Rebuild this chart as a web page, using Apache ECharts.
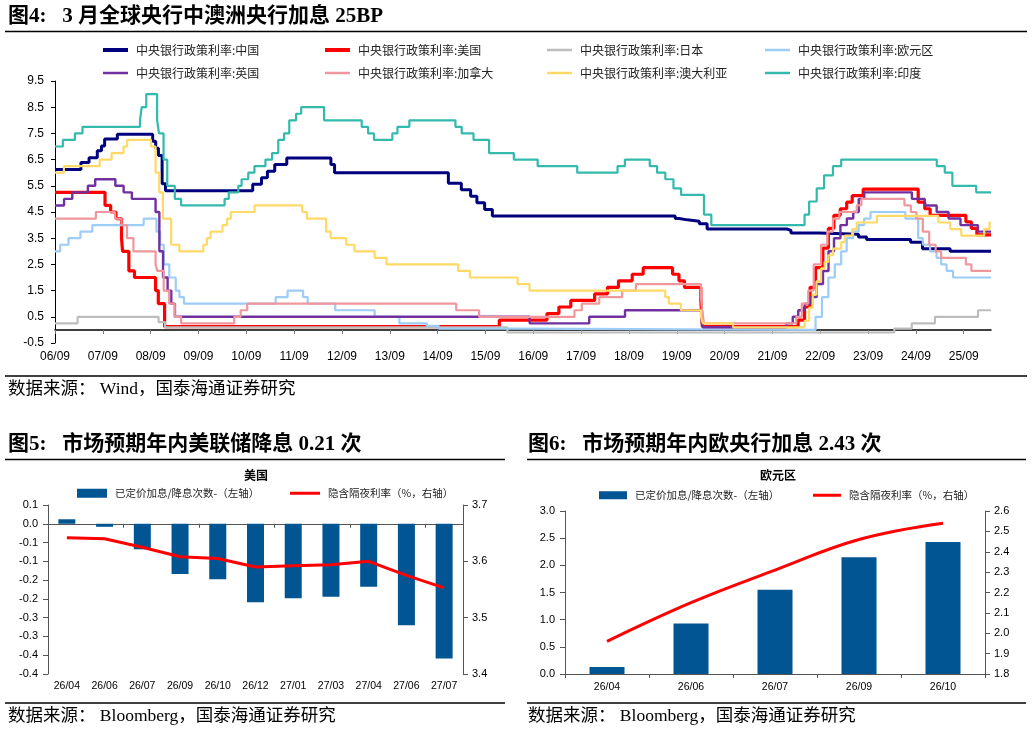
<!DOCTYPE html>
<html>
<head>
<meta charset="utf-8">
<title>全球央行政策利率</title>
<script src="https://cdn.jsdelivr.net/npm/echarts@6.0.0/dist/echarts.min.js"></script>
<style>
html, body { margin: 0; padding: 0; background: #fff; }
#main { width: 1032px; height: 732px; }
</style>
</head>
<body>
<div id="main"></div>
<script>
// 图4: 中央银行政策利率 (变动日期, 利率%)
var chinaRate = [['2006-09-01',6.12],['2007-03-18',6.39],['2007-05-19',6.57],['2007-07-21',6.84],['2007-08-22',7.02],['2007-09-15',7.29],['2007-12-21',7.47],['2008-09-16',7.20],['2008-10-09',6.93],['2008-10-30',6.66],['2008-11-27',5.58],['2008-12-23',5.31],['2010-10-20',5.56],['2010-12-26',5.81],['2011-02-09',6.06],['2011-04-06',6.31],['2011-07-07',6.56],['2012-06-08',6.31],['2012-07-06',6.00],['2014-11-22',5.60],['2015-03-01',5.35],['2015-05-11',5.10],['2015-06-28',4.85],['2015-08-26',4.60],['2015-10-24',4.35],['2019-08-20',4.25],['2019-09-20',4.20],['2019-11-20',4.15],['2020-02-20',4.05],['2020-04-20',3.85],['2021-12-20',3.80],['2022-01-20',3.70],['2022-08-22',3.65],['2023-06-20',3.55],['2023-08-21',3.45],['2024-07-22',3.35],['2024-10-21',3.10],['2025-05-20',3.00]];
var usRateHist = [['2006-09-01',5.25],['2007-09-18',4.75],['2007-10-31',4.50],['2007-12-11',4.25],['2008-01-22',3.50],['2008-01-30',3.00],['2008-03-18',2.25],['2008-04-30',2.00],['2008-10-08',1.50],['2008-10-29',1.00],['2008-12-16',0.125],['2015-12-16',0.375],['2016-12-14',0.625],['2017-03-15',0.875],['2017-06-14',1.125],['2017-12-13',1.375],['2018-03-21',1.625],['2018-06-13',1.875],['2018-09-26',2.125],['2018-12-19',2.375],['2019-07-31',2.125],['2019-09-18',1.875],['2019-10-30',1.625],['2020-03-03',1.125],['2020-03-15',0.125],['2022-03-16',0.375],['2022-05-04',0.875],['2022-06-15',1.625],['2022-07-27',2.375],['2022-09-21',3.125],['2022-11-02',3.875],['2022-12-14',4.375],['2023-02-01',4.625],['2023-03-22',4.875],['2023-05-03',5.125],['2023-07-26',5.375],['2024-09-18',4.875],['2024-11-07',4.625],['2024-12-18',4.375],['2025-09-17',4.125],['2025-10-29',3.875],['2025-12-10',3.625]];
var japanRate = [['2006-09-01',0.25],['2007-02-21',0.50],['2008-10-31',0.30],['2008-12-19',0.10],['2016-02-16',-0.10],['2024-03-19',0.05],['2024-07-31',0.25],['2025-01-24',0.50],['2025-12-19',0.75]];
var euroRate = [['2006-09-01',3.00],['2006-10-11',3.25],['2006-12-13',3.50],['2007-03-14',3.75],['2007-06-13',4.00],['2008-07-09',4.25],['2008-10-15',3.75],['2008-11-12',3.25],['2008-12-10',2.50],['2009-01-21',2.00],['2009-03-11',1.50],['2009-04-08',1.25],['2009-05-13',1.00],['2011-04-13',1.25],['2011-07-13',1.50],['2011-11-09',1.25],['2011-12-14',1.00],['2012-07-11',0.75],['2013-05-08',0.50],['2013-11-13',0.25],['2014-06-11',0.15],['2014-09-10',0.05],['2016-03-16',0.00],['2022-07-27',0.50],['2022-09-14',1.25],['2022-11-02',2.00],['2022-12-21',2.50],['2023-02-08',3.00],['2023-03-22',3.50],['2023-05-10',3.75],['2023-06-21',4.00],['2023-08-02',4.25],['2023-09-20',4.50],['2024-06-12',4.25],['2024-09-18',3.50],['2024-10-23',3.25],['2024-12-18',3.00],['2025-02-05',2.75],['2025-03-12',2.50],['2025-04-23',2.25],['2025-06-11',2.00]];
var ukRate = [['2006-09-01',4.75],['2006-11-09',5.00],['2007-01-11',5.25],['2007-05-10',5.50],['2007-07-05',5.75],['2007-12-06',5.50],['2008-02-07',5.25],['2008-04-10',5.00],['2008-10-08',4.50],['2008-11-06',3.00],['2008-12-04',2.00],['2009-01-08',1.50],['2009-02-05',1.00],['2009-03-05',0.50],['2016-08-04',0.25],['2017-11-02',0.50],['2018-08-02',0.75],['2020-03-11',0.25],['2020-03-19',0.10],['2021-12-16',0.25],['2022-02-03',0.50],['2022-03-17',0.75],['2022-05-05',1.00],['2022-06-16',1.25],['2022-08-04',1.75],['2022-09-22',2.25],['2022-11-03',3.00],['2022-12-15',3.50],['2023-02-02',4.00],['2023-03-23',4.25],['2023-05-11',4.50],['2023-06-22',5.00],['2023-08-03',5.25],['2024-08-01',5.00],['2024-11-07',4.75],['2025-02-06',4.50],['2025-05-08',4.25],['2025-08-07',4.00],['2025-12-18',3.75]];
var canadaRate = [['2006-09-01',4.25],['2007-07-10',4.50],['2007-12-04',4.25],['2008-01-22',4.00],['2008-03-04',3.50],['2008-04-22',3.00],['2008-10-08',2.50],['2008-10-21',2.25],['2008-12-09',1.50],['2009-01-20',1.00],['2009-03-03',0.50],['2009-04-21',0.25],['2010-06-01',0.50],['2010-07-20',0.75],['2010-09-08',1.00],['2015-01-21',0.75],['2015-07-15',0.50],['2017-07-12',0.75],['2017-09-06',1.00],['2018-01-17',1.25],['2018-07-11',1.50],['2018-10-24',1.75],['2020-03-04',1.25],['2020-03-13',0.75],['2020-03-27',0.25],['2022-03-02',0.50],['2022-04-13',1.00],['2022-06-01',1.50],['2022-07-13',2.50],['2022-09-07',3.25],['2022-10-26',3.75],['2022-12-07',4.25],['2023-01-25',4.50],['2023-06-07',4.75],['2023-07-12',5.00],['2024-06-05',4.75],['2024-07-24',4.50],['2024-09-04',4.25],['2024-10-23',3.75],['2024-12-11',3.25],['2025-01-29',3.00],['2025-03-12',2.75],['2025-09-17',2.50],['2025-10-29',2.25]];
var ausRate = [['2006-09-01',6.00],['2006-11-08',6.25],['2007-08-08',6.50],['2007-11-07',6.75],['2008-02-06',7.00],['2008-03-05',7.25],['2008-09-03',7.00],['2008-10-08',6.00],['2008-11-05',5.25],['2008-12-03',4.25],['2009-02-04',3.25],['2009-04-08',3.00],['2009-10-07',3.25],['2009-11-04',3.50],['2009-12-02',3.75],['2010-03-03',4.00],['2010-04-07',4.25],['2010-05-05',4.50],['2010-11-03',4.75],['2011-11-02',4.50],['2011-12-07',4.25],['2012-05-02',3.75],['2012-06-06',3.50],['2012-10-03',3.25],['2012-12-05',3.00],['2013-05-08',2.75],['2013-08-07',2.50],['2015-02-04',2.25],['2015-05-06',2.00],['2016-05-04',1.75],['2016-08-03',1.50],['2019-06-05',1.25],['2019-07-03',1.00],['2019-10-02',0.75],['2020-03-04',0.50],['2020-03-19',0.25],['2020-11-04',0.10],['2022-05-04',0.35],['2022-06-08',0.85],['2022-07-06',1.35],['2022-08-03',1.85],['2022-09-07',2.35],['2022-10-05',2.60],['2022-11-02',2.85],['2022-12-07',3.10],['2023-02-08',3.35],['2023-03-08',3.60],['2023-05-03',3.85],['2023-06-07',4.10],['2023-11-08',4.35],['2025-02-19',4.10],['2025-05-21',3.85],['2025-08-13',3.60],['2026-02-04',3.85],['2026-03-17',4.10]];
var indiaRate = [['2006-09-01',7.00],['2006-10-31',7.25],['2007-01-31',7.50],['2007-03-30',7.75],['2008-06-11',8.00],['2008-06-24',8.50],['2008-07-29',9.00],['2008-10-20',8.00],['2008-11-03',7.50],['2008-12-08',6.50],['2009-01-05',5.50],['2009-03-04',5.00],['2009-04-21',4.75],['2010-03-19',5.00],['2010-04-20',5.25],['2010-07-02',5.50],['2010-07-27',5.75],['2010-09-16',6.00],['2010-11-02',6.25],['2011-01-25',6.50],['2011-03-17',6.75],['2011-05-03',7.25],['2011-06-16',7.50],['2011-07-26',8.00],['2011-09-16',8.25],['2011-10-25',8.50],['2012-04-17',8.00],['2013-01-29',7.75],['2013-03-19',7.50],['2013-05-03',7.25],['2013-09-20',7.50],['2013-10-29',7.75],['2014-01-28',8.00],['2015-01-15',7.75],['2015-03-04',7.50],['2015-06-02',7.25],['2015-09-29',6.75],['2016-04-05',6.50],['2016-10-04',6.25],['2017-08-02',6.00],['2018-06-06',6.25],['2018-08-01',6.50],['2019-02-07',6.25],['2019-04-04',6.00],['2019-06-06',5.75],['2019-08-07',5.40],['2019-10-04',5.15],['2020-03-27',4.40],['2020-05-22',4.00],['2022-05-04',4.40],['2022-06-08',4.90],['2022-08-05',5.40],['2022-09-30',5.90],['2022-12-07',6.25],['2023-02-08',6.50],['2025-02-07',6.25],['2025-04-09',6.00],['2025-06-06',5.50],['2025-12-05',5.25]];

var rateNames = ['中央银行政策利率:中国','中央银行政策利率:美国','中央银行政策利率:日本','中央银行政策利率:欧元区','中央银行政策利率:英国','中央银行政策利率:加拿大','中央银行政策利率:澳大利亚','中央银行政策利率:印度'];
var rateData = [chinaRate, usRateHist, japanRate, euroRate, ukRate, canadaRate, ausRate, indiaRate];
var rateColors = ['#00007F','#FF0000','#BDBDBD','#9DCCF7','#7030A0','#F0969D','#FFD966','#33BAAD'];
var rateWidths = [3, 3.2, 2.2, 2.2, 2.4, 2.2, 2.2, 2.2];

var xTickLabels = ['06/09','07/09','08/09','09/09','10/09','11/09','12/09','13/09','14/09','15/09','16/09','17/09','18/09','19/09','20/09','21/09','22/09','23/09','24/09','25/09'];
var yTickValues = [-0.5, 0.5, 1.5, 2.5, 3.5, 4.5, 5.5, 6.5, 7.5, 8.5, 9.5];

// 图5: 美国
var usCats = ['26/04','26/06','26/07','26/09','26/10','26/12','27/01','27/03','27/04','27/06','27/07'];
var usHikes = [0.012, -0.008, -0.068, -0.134, -0.148, -0.209, -0.198, -0.194, -0.168, -0.270, -0.359];
var usOvernight = [3.642, 3.640, 3.625, 3.608, 3.605, 3.590, 3.592, 3.594, 3.600, 3.575, 3.553];

// 图6: 欧元区
var euCats = ['26/04','26/06','26/07','26/09','26/10'];
var euHikes = [0.13, 0.93, 1.55, 2.15, 2.43];
var euOvernight = [1.96, 2.15, 2.31, 2.46, 2.54];

var barName = '已定价加息/降息次数-（左轴）';
var lineName = '隐含隔夜利率（%，右轴）';

var START = Date.UTC(2006, 8, 1);
var XMAX = 19.57;
function toYears(s) {
    var p = s.split('-');
    return (Date.UTC(+p[0], +p[1] - 1, +p[2]) - START) / (365.25 * 86400000);
}
function stepData(rows) {
    var out = rows.map(function (r) { return [toYears(r[0]), r[1]]; });
    out.push([XMAX, rows[rows.length - 1][1]]);
    return out;
}

var sans = '"Liberation Sans", Arial, sans-serif';
var cjk = '"Noto Sans CJK SC", sans-serif';
var serifMix = '"Liberation Serif", "Noto Sans CJK SC", serif';
var titleFont = 'bold 21px ' + serifMix;
var srcFont = '17.5px ' + serifMix;

function txt(x, y, s, font, align) {
    return { type: 'text', x: x, y: y, silent: true,
        style: { text: s, font: font, fill: '#000', verticalAlign: 'middle', align: align || 'left' } };
}
function hline(x1, x2, y, w) {
    return { type: 'line', silent: true, shape: { x1: x1, y1: y, x2: x2, y2: y },
        style: { stroke: '#000', lineWidth: w } };
}
function legendItem(name, left, top, iw, ih, fs) {
    return {
        data: [name], left: left, top: top, padding: 0, icon: 'rect',
        itemWidth: iw, itemHeight: ih, selectedMode: false,
        textStyle: { fontFamily: cjk, fontSize: fs, lineHeight: fs + 2, color: '#222', padding: [0, 0, 0, 3] }
    };
}
function valueLabel(fs, margin, fmt) {
    var o = { fontFamily: sans, fontSize: fs, color: '#000', margin: margin };
    if (fmt) o.formatter = fmt;
    return o;
}
var axisGray = { show: true, lineStyle: { color: '#555', width: 1 } };
var tickGray = { show: true, length: 5, lineStyle: { color: '#555' } };

var chart = echarts.init(document.getElementById('main'), null, { renderer: 'canvas' });

// 图4 图例 2 行 x 4 列
var legCols = [103, 325, 547, 765];
var legRows = [43, 66];
var legends = rateNames.map(function (n, i) {
    return legendItem(n, legCols[i % 4], legRows[Math.floor(i / 4)], 25, i < 2 ? 4 : 2.5, 12);
});
legends.push(legendItem(barName, 77, 487, 30, 9, 10.5));
legends.push(legendItem(lineName, 290, 487, 30, 3, 10.5));
legends.push(legendItem(barName, 599, 489, 28, 8, 10.5));
legends.push(legendItem(lineName, 813, 489, 28, 3, 10.5));

var series = rateNames.map(function (n, i) {
    return {
        name: n, type: 'line', step: 'end', symbol: 'none',
        xAxisIndex: 0, yAxisIndex: 0,
        data: stepData(rateData[i]),
        itemStyle: { color: rateColors[i] },
        lineStyle: { color: rateColors[i], width: rateWidths[i] }
    };
});
series.push({ name: barName, type: 'bar', xAxisIndex: 2, yAxisIndex: 1, barWidth: 17,
    data: usHikes, itemStyle: { color: '#005592' } });
series.push({ name: lineName, type: 'line', xAxisIndex: 2, yAxisIndex: 2, symbol: 'none',
    data: usOvernight, itemStyle: { color: '#FF0000' }, lineStyle: { color: '#FF0000', width: 3 } });
series.push({ name: barName, type: 'bar', xAxisIndex: 4, yAxisIndex: 3, barWidth: 35,
    data: euHikes, itemStyle: { color: '#005592' } });
series.push({ name: lineName, type: 'line', xAxisIndex: 4, yAxisIndex: 4, symbol: 'none', smooth: 0.4,
    data: euOvernight, itemStyle: { color: '#FF0000' }, lineStyle: { color: '#FF0000', width: 3 } });

function oneDec(v) {
    var a = Math.round(Math.abs(v) * 10 + 1e-6) / 10;
    return (v < -1e-9 ? '-' : '') + a.toFixed(1);
}
function fix1(v) { return Number(v).toFixed(1); }
var xTickIdx = xTickLabels.map(function (s, i) { return i; });

var option = {
    animation: false,
    backgroundColor: '#fff',
    legend: legends,
    grid: [
        { left: 55, top: 81, width: 936, height: 262, outerBoundsMode: 'none' },
        { left: 48, top: 505, width: 415, height: 169, outerBoundsMode: 'none' },
        { left: 565, top: 511, width: 420, height: 163, outerBoundsMode: 'none' }
    ],
    xAxis: [
        { type: 'value', gridIndex: 0, min: 0, max: XMAX, position: 'bottom',
          axisLine: { show: false, onZero: false }, axisTick: { show: false }, splitLine: { show: false },
          axisLabel: { fontFamily: sans, fontSize: 12, color: '#000', margin: 8, customValues: xTickIdx,
              formatter: function (v) { return xTickLabels[Math.round(v)] || ''; } } },
        { type: 'value', gridIndex: 0, min: 0, max: XMAX, position: 'bottom',
          axisLine: { show: true, onZero: true, lineStyle: { color: '#000', width: 1.5 } },
          axisTick: { show: true, length: 4, customValues: xTickIdx, lineStyle: { color: '#777' } },
          axisLabel: { show: false }, splitLine: { show: false } },
        { type: 'category', gridIndex: 1, data: usCats, position: 'bottom',
          axisLine: { show: false, onZero: false }, axisTick: { show: false },
          axisLabel: { fontFamily: sans, fontSize: 10.5, color: '#000', margin: 7, interval: 0 } },
        { type: 'category', gridIndex: 1, data: usCats, position: 'bottom',
          axisLine: { show: true, onZero: true, lineStyle: { color: '#555' } },
          axisTick: { show: true, length: 4, lineStyle: { color: '#555' } },
          axisLabel: { show: false } },
        { type: 'category', gridIndex: 2, data: euCats, position: 'bottom',
          axisLine: { show: true, lineStyle: { color: '#555' } },
          axisTick: { show: true, length: 4, lineStyle: { color: '#555' } },
          axisLabel: { fontFamily: sans, fontSize: 10.5, color: '#000', margin: 8, interval: 0 } }
    ],
    yAxis: [
        { type: 'value', gridIndex: 0, min: -0.5, max: 9.5, position: 'left',
          axisLine: { show: true, lineStyle: { color: '#000', width: 1 } },
          axisTick: { show: true, length: 4, customValues: yTickValues, lineStyle: { color: '#000' } },
          axisLabel: { fontFamily: sans, fontSize: 12, color: '#000', margin: 11, customValues: yTickValues },
          splitLine: { show: false } },
        { type: 'value', gridIndex: 1, min: -0.4, max: 0.05, interval: 0.05, position: 'left',
          axisLine: axisGray, axisTick: tickGray,
          axisLabel: valueLabel(11, 10, oneDec), splitLine: { show: false } },
        { type: 'value', gridIndex: 1, min: 3.4, max: 3.7, interval: 0.1, position: 'right',
          axisLine: axisGray, axisTick: tickGray,
          axisLabel: valueLabel(11, 9, fix1), splitLine: { show: false } },
        { type: 'value', gridIndex: 2, min: 0, max: 3, interval: 0.5, position: 'left',
          axisLine: axisGray, axisTick: tickGray,
          axisLabel: valueLabel(11, 10, fix1), splitLine: { show: false } },
        { type: 'value', gridIndex: 2, min: 1.8, max: 2.6, interval: 0.1, position: 'right',
          axisLine: axisGray, axisTick: tickGray,
          axisLabel: valueLabel(11, 9, fix1), splitLine: { show: false } }
    ],
    graphic: [
        txt(8, 17, '图4:   3 月全球央行中澳洲央行加息 25BP', titleFont),
        hline(5, 1027, 31.5, 1.6),
        hline(5, 1027, 376, 1.3),
        txt(8, 389, '数据来源： Wind，国泰海通证券研究', srcFont),

        txt(8, 445, '图5:   市场预期年内美联储降息 0.21 次', titleFont),
        hline(5, 505, 459.5, 1.6),
        txt(256, 475, '美国', 'bold 12px ' + cjk, 'center'),
        hline(5, 505, 703, 1.3),
        txt(8, 716, '数据来源： Bloomberg，国泰海通证券研究', srcFont),

        txt(528, 445, '图6:   市场预期年内欧央行加息 2.43 次', titleFont),
        hline(527, 1026, 459.5, 1.6),
        txt(778, 475, '欧元区', 'bold 12px ' + cjk, 'center'),
        hline(527, 1026, 703, 1.3),
        txt(528, 716, '数据来源： Bloomberg，国泰海通证券研究', srcFont)
    ],
    series: series
};

chart.setOption(option);
</script>
</body>
</html>
